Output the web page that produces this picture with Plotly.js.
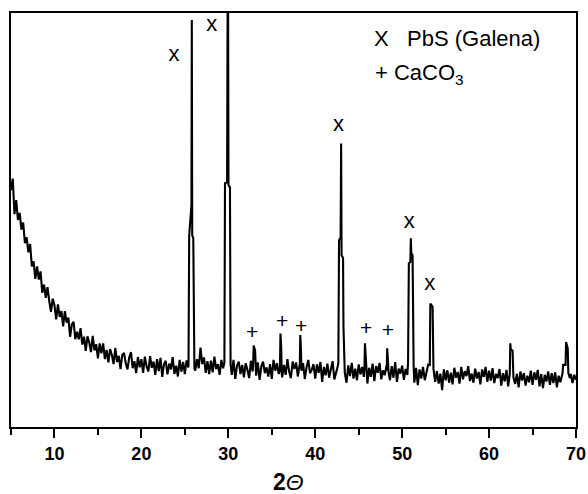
<!DOCTYPE html>
<html>
<head>
<meta charset="utf-8">
<script src="https://cdn.plot.ly/plotly-3.0.1.min.js"></script>
<style>html,body{margin:0;padding:0;background:#fff;}#chart{width:588px;height:494px;}</style>
</head>
<body>
<div id="chart"></div>
<script>
// ---- data (2-theta in degrees, intensity in arbitrary units 0..1000) ----
const gridStart = 5.0;
const gridStep = 0.2;
// background / baseline intensity at 5.0, 5.2, ... 70.0 (one row per degree)
const baseI = [
  572, 600, 514, 548, 500,  // 5
  517, 477, 494, 444, 458,  // 6
  422, 442, 388, 400, 358,  // 7
  388, 356, 376, 324, 344,  // 8
  312, 338, 304, 278, 310,  // 9
  294, 260, 296, 266, 280,  // 10
  243, 280, 252, 264, 218,  // 11
  248, 254, 212, 230, 212,  // 12
  239, 199, 218, 184, 219,  // 13
  204, 181, 220, 185, 200,  // 14
  166, 202, 178, 202, 164,  // 15
  186, 156, 188, 174, 152,  // 16
  191, 157, 172, 140, 174,  // 17
  179, 154, 139, 168, 181,  // 18
  142, 159, 130, 169, 144,  // 19
  164, 131, 170, 146, 134,  // 20
  171, 143, 158, 126, 164,  // 21
  135, 167, 121, 152, 160,  // 22
  127, 153, 139, 169, 128,  // 23
  148, 122, 162, 134, 157,  // 24
  128, 161, 144, 150, 148,  // 25
  152, 136, 164, 142, 192,  // 26
  152, 168, 131, 159, 128,  // 27
  160, 132, 170, 140, 152,  // 28
  126, 162, 142, 150, 150,  // 29
  150, 150, 126, 162, 116,  // 30
  148, 158, 128, 150, 120,  // 31
  154, 138, 118, 160, 134,  // 32
  170, 124, 156, 114, 146,  // 33
  158, 130, 144, 122, 152,  // 34
  116, 162, 136, 154, 128,  // 35
  140, 120, 150, 126, 164,  // 36
  134, 118, 158, 140, 156,  // 37
  122, 150, 150, 154, 116,  // 38
  144, 162, 130, 138, 152,  // 39
  117, 151, 131, 157, 109,  // 40
  145, 125, 153, 119, 139,  // 41
  159, 115, 129, 147, 140,  // 42
  140, 140, 131, 107, 149,  // 43
  123, 155, 117, 141, 113,  // 44
  151, 127, 145, 121, 130,  // 45
  105, 143, 121, 153, 111,  // 46
  147, 131, 155, 115, 137,  // 47
  125, 149, 130, 113, 147,  // 48
  119, 157, 109, 141, 129,  // 49
  148, 114, 140, 126, 130,  // 50
  130, 130, 107, 143, 101,  // 51
  139, 117, 145, 113, 131,  // 52
  151, 150, 150, 141, 109,  // 53
  135, 105, 129,  89, 139,  // 54
  113, 137, 107, 131, 103,  // 55
  143, 119, 133, 105, 145,  // 56
  115, 135, 123, 147, 111,  // 57
  129, 107, 141, 117, 133,  // 58
  103, 139, 121, 145, 109,  // 59
  136, 112, 142, 106, 128,  // 60
  118, 140, 100, 130, 110,  // 61
  138,  98, 120, 120, 120,  // 62
  104, 128,  96, 134, 112,  // 63
  130, 100, 124, 108, 136,  // 64
  102, 132, 114, 138,  98,  // 65
  128,  94, 126, 110, 134,  // 66
  102, 130, 106, 132,  96,  // 67
  124, 108, 130, 130, 130,  // 68
  130, 130, 128, 106, 126,  // 69
  114                       // 70
];

// diffraction peaks (points that replace the background inside each peak window)
const p26x = [25.42, 25.50, 25.62, 25.76, 25.80, 25.85, 25.97, 26.03, 26.10];
const p26y = [150, 463, 511, 536, 983, 463, 456, 158, 142];
const p30x = [29.55, 29.62, 29.86, 29.93, 29.97, 30.02, 30.19, 30.26];
const p30y = [156, 589, 591, 1080, 1080, 584, 579, 152];
const p33x = [32.86, 32.92, 33.08, 33.14];
const p33y = [150, 197, 185, 140];
const p36x = [35.94, 36.00, 36.08, 36.14];
const p36y = [138, 226, 196, 132];
const p38x = [38.22, 38.28, 38.36, 38.42];
const p38y = [140, 222, 186, 136];
const p43x = [42.66, 42.74, 42.92, 42.98, 43.03, 43.20, 43.25, 43.31, 43.38];
const p43y = [156, 451, 458, 685, 415, 408, 241, 197, 148];
const p45x = [45.66, 45.72, 45.80, 45.87];
const p45y = [140, 202, 174, 130];
const p48x = [48.22, 48.28, 48.36, 48.44];
const p48y = [136, 190, 166, 132];
const p51x = [50.68, 50.77, 50.94, 51.00, 51.05, 51.20, 51.25, 51.32];
const p51y = [156, 396, 398, 456, 420, 415, 241, 148];
const p53x = [53.18, 53.24, 53.50, 53.56];
const p53y = [150, 298, 291, 156];
const p62x = [62.38, 62.44, 62.50, 62.70, 62.78];
const p62y = [128, 202, 187, 185, 124];
const p69x = [68.45, 68.52, 68.80, 68.86, 68.95, 69.05, 69.12, 69.30];
const p69y = [130, 150, 150, 205, 193, 190, 130, 118];

// phase labels above the peaks
const galenaX = [23.76, 28.10, 42.67, 50.81, 53.17];
const galenaY = [897, 970, 728, 495, 345];
const calciteX = [32.74, 36.19, 38.38, 45.86, 48.36];
const calciteY = [226, 251, 239, 234, 229];

const xTickVals = [10, 20, 30, 40, 50, 60, 70];
const xTickText = ['10', '20', '30', '40', '50', '60', '70'];

// ---- build the pattern ----
const peakSets = [[p26x,p26y],[p30x,p30y],[p33x,p33y],[p36x,p36y],[p38x,p38y],[p43x,p43y],
                  [p45x,p45y],[p48x,p48y],[p51x,p51y],[p53x,p53y],[p62x,p62y],[p69x,p69y]];
let pts = [];
baseI.forEach((v, i) => {
  const x = +(gridStart + i * gridStep).toFixed(2);
  const inside = peakSets.some(([px]) => x > px[0] - 1e-6 && x < px[px.length - 1] + 1e-6);
  if (!inside) pts.push([x, v]);
});
peakSets.forEach(([px, py]) => px.forEach((x, j) => pts.push([x, py[j]])));
pts.sort((a, b) => a[0] - b[0]);

const F = 'Liberation Sans, Arial, Helvetica, sans-serif';

const traces = [
  {
    x: pts.map(p => p[0]), y: pts.map(p => p[1]),
    type: 'scatter', mode: 'lines',
    line: {color: '#000', width: 2.1},
    hoverinfo: 'skip', showlegend: false
  },
  {
    x: galenaX, y: galenaY, type: 'scatter', mode: 'text',
    text: galenaX.map(() => 'x'), textposition: 'middle center',
    textfont: {family: F, size: 22, color: '#000'},
    hoverinfo: 'skip', showlegend: false, cliponaxis: false
  },
  {
    x: calciteX, y: calciteY, type: 'scatter', mode: 'text',
    text: calciteX.map(() => '+'), textposition: 'middle center',
    textfont: {family: F, size: 21, color: '#000'},
    hoverinfo: 'skip', showlegend: false, cliponaxis: false
  }
];

const layout = {
  width: 588, height: 494,
  margin: {l: 11, r: 12, t: 13, b: 67, pad: 0},
  paper_bgcolor: '#fff', plot_bgcolor: '#fff',
  showlegend: false,
  xaxis: {
    range: [5, 70], showgrid: false, zeroline: false,
    showline: true, mirror: true, linecolor: '#000', linewidth: 2,
    ticks: 'outside', ticklen: 9, tickwidth: 2, tickcolor: '#000',
    tickvals: xTickVals, ticktext: xTickText,
    tickfont: {family: F, size: 18, color: '#000', weight: 'bold'},
    minor: {dtick: 5, tick0: 0, ticks: 'outside', ticklen: 6, tickwidth: 2, tickcolor: '#000', showgrid: false}
  },
  yaxis: {
    range: [0, 1000], showgrid: false, zeroline: false,
    showline: true, mirror: true, linecolor: '#000', linewidth: 2,
    ticks: '', showticklabels: false
  },
  annotations: [
    {text: 'X\u00A0\u00A0\u00A0PbS (Galena)', xref: 'paper', yref: 'paper', x: 0.6393, y: 0.9396,
     xanchor: 'left', yanchor: 'middle', showarrow: false, font: {family: F, size: 22, color: '#000'}},
    {text: '+ CaCO<sub>3</sub>', xref: 'paper', yref: 'paper', x: 0.6411, y: 0.852,
     xanchor: 'left', yanchor: 'middle', showarrow: false, font: {family: F, size: 22, color: '#000'}},
    {text: '<b>2</b><i>Θ</i>', xref: 'paper', yref: 'paper', x: 0.4918, y: -0.1325,
     xanchor: 'center', yanchor: 'middle', showarrow: false, font: {family: F, size: 23, color: '#000'}}
  ]
};

Plotly.newPlot('chart', traces, layout, {displayModeBar: false, staticPlot: true});
</script>
</body>
</html>
